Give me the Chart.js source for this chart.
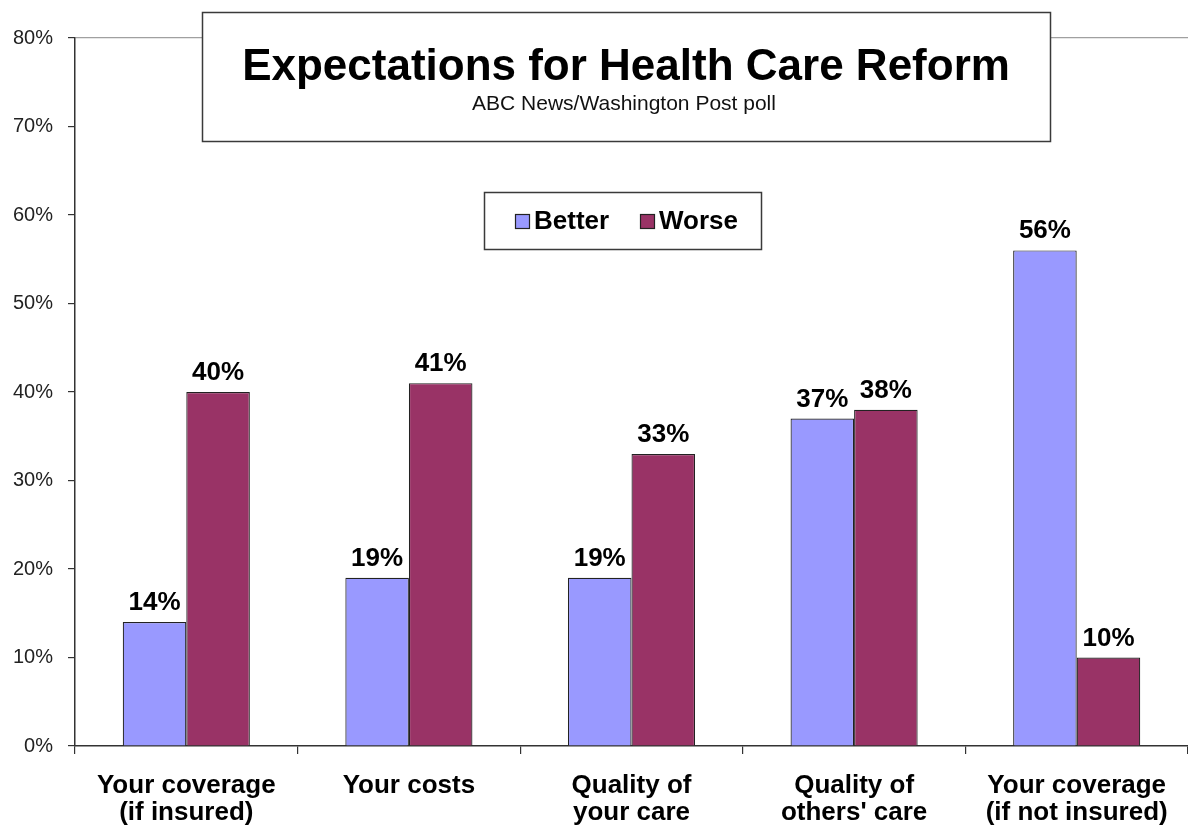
<!DOCTYPE html>
<html>
<head>
<meta charset="utf-8">
<script src="https://cdn.jsdelivr.net/npm/chart.js@4/dist/chart.umd.min.js"></script>
<style>
  html, body { margin: 0; padding: 0; background: #fff; }
  #wrap { width: 1188px; height: 826px; }
</style>
</head>
<body>
<div id="wrap"><canvas id="c" width="1188" height="826"></canvas></div>
<script>
const categories = [
  ["Your coverage", "(if insured)"],
  ["Your costs"],
  ["Quality of", "your care"],
  ["Quality of", "others' care"],
  ["Your coverage", "(if not insured)"]
];
const betterValues = [14, 19, 19, 37, 56];
const worseValues = [40, 41, 33, 38, 10];
const yTicks = [0, 10, 20, 30, 40, 50, 60, 70, 80];

const titleText = "Expectations for Health Care Reform";
const subtitleText = "ABC News/Washington Post poll";
const FONT = "'Liberation Sans', Arial, sans-serif";

// Boxed title and legend sitting over the plot area
const overlayBoxes = {
  id: 'overlayBoxes',
  afterDraw(chart) {
    const ctx = chart.ctx;
    ctx.save();
    // title box
    ctx.fillStyle = '#fff';
    ctx.fillRect(202, 12, 848, 129);
    ctx.strokeStyle = '#3a3a3a';
    ctx.lineWidth = 1.5;
    ctx.strokeRect(202.5, 12.5, 848, 129);
    ctx.fillStyle = '#000';
    ctx.textAlign = 'center';
    ctx.textBaseline = 'alphabetic';
    ctx.font = "bold 44px " + FONT;
    ctx.fillText(titleText, 626, 80);
    ctx.font = "21px " + FONT;
    ctx.fillStyle = '#111';
    ctx.fillText(subtitleText, 624, 110);

    // legend box
    ctx.fillStyle = '#fff';
    ctx.fillRect(484, 192, 277, 57);
    ctx.strokeStyle = '#3a3a3a';
    ctx.lineWidth = 1.5;
    ctx.strokeRect(484.5, 192.5, 277, 57);
    const items = chart.data.datasets;
    const xs = [515, 640];
    ctx.font = "bold 26px " + FONT;
    ctx.textAlign = 'left';
    ctx.textBaseline = 'middle';
    items.forEach((ds, i) => {
      ctx.fillStyle = ds.backgroundColor;
      ctx.fillRect(xs[i], 214, 14, 14);
      ctx.strokeStyle = '#222';
      ctx.lineWidth = 1.2;
      ctx.strokeRect(xs[i] + 0.5, 214.5, 14, 14);
      ctx.fillStyle = '#000';
      ctx.fillText(ds.label, xs[i] + 19, 222);
    });
    ctx.restore();
  }
};

// Value labels above each bar
const valueLabels = {
  id: 'valueLabels',
  afterDatasetsDraw(chart) {
    const ctx = chart.ctx;
    ctx.save();
    ctx.font = "bold 26px " + FONT;
    ctx.fillStyle = '#000';
    ctx.textAlign = 'center';
    ctx.textBaseline = 'alphabetic';
    chart.data.datasets.forEach((ds, di) => {
      chart.getDatasetMeta(di).data.forEach((bar, i) => {
        ctx.fillText(ds.data[i] + '%', bar.x, bar.y - 12);
      });
    });
    ctx.restore();
  }
};

new Chart(document.getElementById('c'), {
  type: 'bar',
  data: {
    labels: categories,
    datasets: [
      { label: 'Better', data: betterValues, backgroundColor: '#9999FF',
        borderColor: '#222', borderWidth: 1.2 },
      { label: 'Worse', data: worseValues, backgroundColor: '#993366',
        borderColor: '#222', borderWidth: 1.2 }
    ]
  },
  options: {
    responsive: false,
    animation: false,
    devicePixelRatio: 1,
    layout: { padding: { top: 38, right: 0, bottom: 0, left: 0 } },
    plugins: { legend: { display: false }, title: { display: false }, tooltip: { enabled: false } },
    datasets: { bar: { categoryPercentage: 0.571, barPercentage: 1.0 } },
    scales: {
      x: {
        offset: true,
        grid: { drawOnChartArea: false, drawTicks: true, tickLength: 8, tickColor: '#333', lineWidth: 1.2 },
        border: { color: '#333', width: 1.5 },
        ticks: { color: '#000', font: { family: FONT, size: 26, weight: 'bold', lineHeight: 1.04 }, padding: 18, maxRotation: 0, autoSkip: false },
        afterFit(s) { s.height = 80; }
      },
      y: {
        min: 0, max: 80,
        afterBuildTicks(s) { s.ticks = yTicks.map(v => ({ value: v })); },
        grid: {
          color: ctx => ctx.tick && ctx.tick.value === 80 ? '#a0a0a0' : 'rgba(0,0,0,0)',
          lineWidth: 1.2,
          drawTicks: true, tickLength: 7, tickColor: '#333'
        },
        border: { color: '#333', width: 1.5 },
        ticks: { color: '#222', font: { family: FONT, size: 20 }, padding: 15, callback: v => v + '%' },
        afterFit(s) { s.width = 75; }
      }
    }
  },
  plugins: [valueLabels, overlayBoxes]
});
</script>
</body>
</html>
